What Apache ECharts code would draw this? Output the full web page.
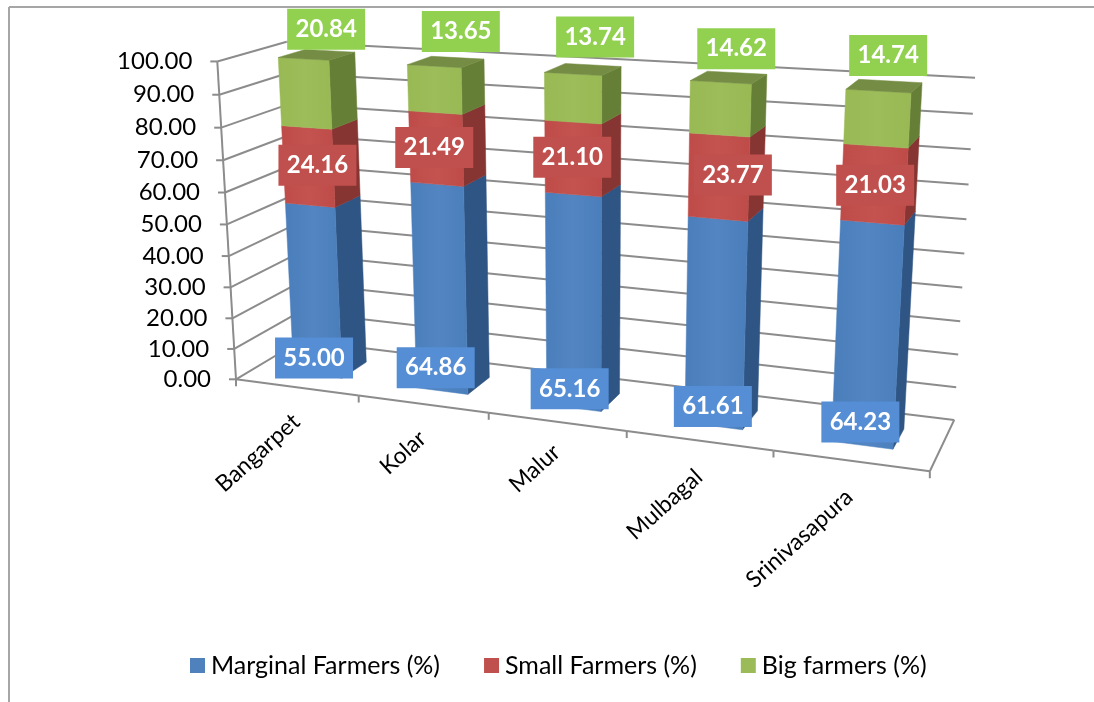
<!DOCTYPE html>
<html><head><meta charset="utf-8">
<style>html,body{margin:0;padding:0;background:#fff}#c{width:1094px;height:702px}</style>
<script src="https://cdn.jsdelivr.net/npm/echarts@6/dist/echarts.min.js"></script>
</head><body><div id="c"></div>
<script>
const categories = ['Bangarpet','Kolar','Malur','Mulbagal','Srinivasapura'];
const marginal = [55.00,64.86,65.16,61.61,64.23];
const small = [24.16,21.49,21.10,23.77,21.03];
const big = [20.84,13.65,13.74,14.62,14.74];
const yTicks = [0,10,20,30,40,50,60,70,80,90,100];
const seriesNames = ['Marginal Farmers (%)','Small Farmers (%)','Big farmers (%)'];

// Label nudges (px), relative to the centre of each segment's front face
const nudgeBlue = [[0,68],[-4,80],[-4,87.5],[-3,84],[-7,88]];
const nudgeRed = [[9,-1],[-2,-1],[-1,-1],[14,-2],[1,1]];
const nudgeGreen = [[21,-64],[26,-58],[22,-61],[16,-60],[11,-63]];
const catLabelNudge = [[0,31],[0,31],[0,27],[0,33],[-1,33]];

// Projection of the chart box (u along categories, d depth, v height) onto the picture
const frame = [
 [0,0,0,237,380],[0,0,1,217,60],[0,1,0,300,340],[0,1,1,287,43],
 [1,1,0,955,419],[1,1,1,975,78],[1,0,0,929,472]
];
function solve(pts){
  const A=[],b=[];
  pts.forEach(([u,d,v,x,y])=>{
    x/=1000;y/=1000;
    A.push([u,d,v,1,0,0,0,0,-x*u,-x*d,-x*v]);b.push(x);
    A.push([0,0,0,0,u,d,v,1,-y*u,-y*d,-y*v]);b.push(y);
  });
  const n=11,M=[];
  for(let i=0;i<n;i++){M.push(new Array(n+1).fill(0));
    for(let j=0;j<n;j++)for(let k=0;k<A.length;k++)M[i][j]+=A[k][i]*A[k][j];
    for(let k=0;k<A.length;k++)M[i][n]+=A[k][i]*b[k];
    M[i][i]+=1e-9;}
  for(let i=0;i<n;i++){let p=i;for(let r=i+1;r<n;r++)if(Math.abs(M[r][i])>Math.abs(M[p][i]))p=r;
    [M[i],M[p]]=[M[p],M[i]];
    for(let r=0;r<n;r++){if(r===i)continue;const f=M[r][i]/M[i][i];for(let c=i;c<=n;c++)M[r][c]-=f*M[i][c];}}
  return M.map((r,i)=>r[n]/r[i]);
}
const P=solve(frame);
function proj(u,d,v){
  const w=P[8]*u+P[9]*d+P[10]*v+1;
  return [1000*(P[0]*u+P[1]*d+P[2]*v+P[3])/w,1000*(P[4]*u+P[5]*d+P[6]*v+P[7])/w];
}
const BAR_HALF=0.2, BAR_MID=0.515, D0=0.3, D1=0.7;
const GRID='#8c8c8c', FONT='Lato, "Open Sans", sans-serif';

function unit(params,api,x,y){
  const c=params.coordSys,p=api.coord([x,y]);
  return [(p[0]-c.x)/c.width,1-(p[1]-c.y)/c.height];
}
function line(a,b,w){return {type:'line',shape:{x1:a[0],y1:a[1],x2:b[0],y2:b[1]},style:{stroke:GRID,lineWidth:w||2},silent:true};}

function barRender(colors,nudge,isTop){
  return function(params,api){
    const i=api.value(0),s=api.value(1),e=api.value(2),val=api.value(3);
    const a=unit(params,api,i+BAR_MID-BAR_HALF,s),b=unit(params,api,i+BAR_MID+BAR_HALF,e);
    const [u0,v0]=a,[u1,v1]=b;
    const poly=(pts,fill)=>({type:'polygon',shape:{points:pts},style:{fill:fill,stroke:fill,lineWidth:0.5},silent:true});
    const front=[proj(u0,D0,v0),proj(u1,D0,v0),proj(u1,D0,v1),proj(u0,D0,v1)];
    const side=[proj(u1,D0,v0),proj(u1,D1,v0),proj(u1,D1,v1),proj(u1,D0,v1)];
    const children=[poly(side,colors[1]),
      poly(front,{type:'linear',x:0,y:0,x2:1,y2:0,colorStops:[{offset:0,color:colors[0]},{offset:0.5,color:colors[3]},{offset:1,color:colors[0]}]})];
    if(isTop){children.push(poly([proj(u0,D0,v1),proj(u1,D0,v1),proj(u1,D1,v1),proj(u0,D1,v1)],colors[2]));}
    const cx=(front[0][0]+front[1][0]+front[2][0]+front[3][0])/4+nudge[i][0];
    const cy=(front[0][1]+front[1][1]+front[2][1]+front[3][1])/4+nudge[i][1];
    children.push({type:'rect',z2:50,shape:{x:cx-39,y:cy-20.5,width:78,height:41},style:{fill:colors[4]},silent:true});
    children.push({type:'text',z2:51,x:cx,y:cy,style:{text:val.toFixed(2),fill:'#fff',font:'bold 24px '+FONT,align:'center',verticalAlign:'middle'},silent:true});
    return {type:'group',children};
  };
}
function stackRows(vals,bases){return vals.map((v,i)=>[i,bases[i],bases[i]+v,v]);}
const b1=marginal.map(()=>0), b2=marginal.slice(), b3=marginal.map((v,i)=>v+small[i]);

const option={
 animation:false,backgroundColor:'#fff',
 grid:{left:200,right:100,top:60,bottom:220},
 xAxis:{type:'value',min:0,max:5,show:false},
 yAxis:{type:'value',min:0,max:100,show:false},
 legend:{left:185,top:648,icon:'rect',itemWidth:15,itemHeight:15,itemGap:44,selectedMode:false,
   data:seriesNames,textStyle:{fontFamily:FONT,fontSize:25,color:'#000',padding:[0,0,0,1]}},
 graphic:[
  {type:'line',shape:{x1:9,y1:7,x2:1094,y2:7},style:{stroke:'#a6a6a6',lineWidth:2},silent:true},
  {type:'line',shape:{x1:9,y1:7,x2:9,y2:702},style:{stroke:'#a6a6a6',lineWidth:2},silent:true}
 ],
 series:[
  {type:'custom',name:'yframe',z:1,silent:true,encode:{x:0,y:1},data:yTicks.map(t=>[0,t]),
   renderItem(params,api){
    const t=api.value(1),v=unit(params,api,0,t)[1];
    const p0=proj(0,0,v),p1=proj(0,1,v),p2=proj(1,1,v);
    const ch=[line(p0,p1),line(p1,p2),line(p0,[p0[0]-7,p0[1]])];
    ch.push({type:'text',x:p0[0]-25,y:p0[1],style:{text:t.toFixed(2),fill:'#000',font:'24px '+FONT,align:'right',verticalAlign:'middle'},silent:true});
    return {type:'group',children:ch};
   }},
  {type:'custom',name:'xframe',z:1,silent:true,encode:{x:0,y:1},data:[0,1,2,3,4].map(i=>[i,0]),
   renderItem(params,api){
    const i=api.value(0),ua=unit(params,api,i,0)[0],ub=unit(params,api,i+1,0)[0],um=unit(params,api,i+0.5,0)[0];
    const a=proj(ua,0,0),b=proj(ub,0,0),m=proj(um,0,0);
    const ch=[line(a,b),line(b,[b[0],b[1]+7])];
    if(i===0)ch.push(line(a,[a[0],a[1]+7]),line(a,proj(0,0,1)));
    if(i===4)ch.push(line(b,proj(1,1,0)));
    ch.push({type:'text',x:m[0]+catLabelNudge[i][0],y:m[1]+catLabelNudge[i][1],rotation:42*Math.PI/180,
      style:{text:categories[i],fill:'#000',font:'23px '+FONT,align:'right',verticalAlign:'middle'},silent:true});
    return {type:'group',children:ch};
   }},
  {type:'custom',name:seriesNames[0],z:3,itemStyle:{color:'#4f81bd'},encode:{x:0,y:2},data:stackRows(marginal,b1),
   renderItem:barRender(['#4a7ebb','#2f5585','#3a659b','#5285c2','#558ed5'],nudgeBlue,false)},
  {type:'custom',name:seriesNames[1],z:4,itemStyle:{color:'#c0504d'},encode:{x:0,y:2},data:stackRows(small,b2),
   renderItem:barRender(['#be4b48','#863532','#863532','#c4534f','#c0504d'],nudgeRed,false)},
  {type:'custom',name:seriesNames[2],z:5,itemStyle:{color:'#9bbb59'},encode:{x:0,y:2},data:stackRows(big,b3),
   renderItem:barRender(['#98b954','#667f37','#748c43','#9dbc5a','#92d050'],nudgeGreen,true)}
 ]
};
echarts.init(document.getElementById('c')).setOption(option);
</script></body></html>
